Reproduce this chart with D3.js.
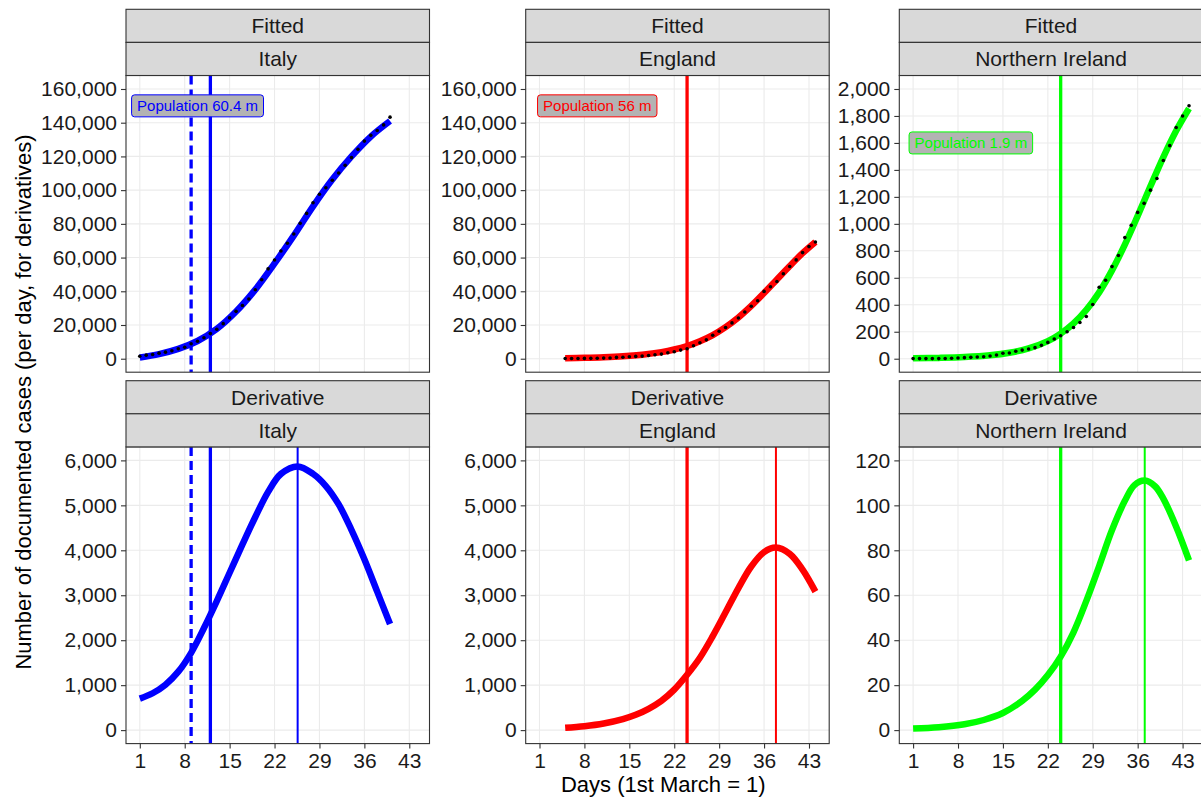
<!DOCTYPE html>
<html><head><meta charset="utf-8">
<script src="https://cdn.jsdelivr.net/npm/d3@7"></script>
<style>
body{margin:0;background:#fff}
svg{display:block}
text{font-family:"Liberation Sans",Arial,Helvetica,sans-serif}
</style>
</head><body>
<svg id="chart" width="1201" height="798"></svg>
<script>
// ---------------- data ----------------
const countries = ["Italy", "England", "Northern Ireland"];
const rowLabels = ["Fitted", "Derivative"];
const colors = ["#0000FF", "#FF0000", "#00FF00"];
const populations = ["60.4", "56", "1.9"];
const xTicks = [1, 8, 15, 22, 29, 36, 43];
const xTitle = "Days (1st March = 1)";
const yTitle = "Number of documented cases (per day, for derivatives)";

const yTicksFitted = [
  [0, 20000, 40000, 60000, 80000, 100000, 120000, 140000, 160000],
  [0, 20000, 40000, 60000, 80000, 100000, 120000, 140000, 160000],
  [0, 200, 400, 600, 800, 1000, 1200, 1400, 1600, 1800, 2000]
];
const yTicksDeriv = [
  [0, 1000, 2000, 3000, 4000, 5000, 6000],
  [0, 1000, 2000, 3000, 4000, 5000, 6000],
  [0, 20, 40, 60, 80, 100, 120]
];

// observed cumulative cases (dots), one per day starting at *Start
const italyObsStart = 1;
const italyObs = [1500, 2100, 2500, 3300, 3900, 4700, 5900, 6800, 8900, 10400,
  12400, 14900, 17500, 20800, 24200, 28100, 31600, 35400, 40900, 46800,
  53300, 58600, 63900, 68500, 74000, 80300, 86200, 92500, 97600, 101400,
  105900, 110200, 114700, 119300, 124200, 129100, 132500, 135400, 138700, 143300];
const englandObsStart = 5;
const englandObs = [100, 110, 150, 180, 230, 280, 370, 450, 770, 900,
  1160, 1360, 1560, 1950, 2340, 2740, 3520, 4110, 5100, 5880,
  7660, 9430, 11200, 13950, 16300, 18480, 21240, 24190, 27730, 31080,
  34420, 39930, 42690, 45840, 50360, 54690, 58630, 62960, 66500, 69250];
const niObsStart = 1;
const niObs = [1, 1, 1, 1, 1, 2, 3, 5, 8, 10,
  13, 15, 20, 27, 40, 42, 55, 64, 72, 82,
  99, 121, 146, 170, 200, 232, 269, 313, 402, 530,
  582, 683, 765, 898, 989, 1085, 1152, 1250, 1336, 1470,
  1580, 1714, 1800, 1876];

// fitted curves [day, cases]
const italyFit = [[1,700],[4,2700],[7,5800],[10,10500],[13,17700],[16,28000],[19,41000],
  [22,56500],[25,73000],[28,90400],[31,106300],[34,120000],[37,131800],[40,141000]];
const englandFit = [[5,300],[8,500],[11,840],[14,1400],[17,2360],[20,3900],[22,5450],[24,7550],
  [26,10400],[28,14050],[30,18750],[32,24500],[34,31350],[36,39000],[38,47000],[40,55000],
  [42,62600],[44,69250]];
const niFit = [[1,3],[5,6],[9,12],[13,25],[16,44],[19,76],[22,130],[24,186],[26,261],[28,362],
  [30,492],[32,655],[34,846],[36,1059],[38,1280],[40,1495],[42,1690],[44,1855]];

// derivative curves [day, cases per day]
const italyDeriv = [[1,700],[3,820],[5,1010],[7,1300],[9,1720],[11,2270],[13,2870],[15,3500],
  [17,4130],[19,4740],[21,5300],[23,5700],[25.6,5866],[28,5700],[30,5430],[32,5020],
  [34,4450],[36,3800],[38,3080],[40,2360]];
const englandDeriv = [[5,52],[8,88],[11,148],[14,245],[16,340],[18,473],[20,650],[22,900],
  [24,1230],[26,1610],[28,2090],[30,2620],[32,3160],[34,3640],[36,3960],[37.85,4060],
  [40,3920],[42,3570],[44,3080]];
const niDeriv = [[1,0.7],[5,1.3],[9,2.6],[12,4.5],[15,7.6],[18,13],[20,18],[22,24.5],[24,32.7],
  [26,43.5],[28,57.5],[30,73],[32,89],[34,102],[35.5,109],[37.1,111],[38.7,108.5],[40,103],
  [42,90.5],[44,75.5]];

// reference lines (days)
const dashedLineDay = [9, null, null];
const solidLineDay = [12, 24, 24];
const peakLineDay = [25.6, 37.85, 37.1];

// population label anchor (day, value)
const labelDay = [10, 10, 10];
const labelValue = [150000, 150000, 1600];

// ---------------- layout ----------------
const xDomain = [-1.15, 46.15];
const yDomFitted = [[-8000, 168000], [-8000, 168000], [-100, 2100]];
const yDomDeriv = [[-300, 6300], [-300, 6300], [-6, 126]];
const panelLeft = [126, 525.7, 899.3];
const panelW = 303.5;
const stripTop = [9.3, 380.7];
const stripH = 33.1;
const panelH = 296.7;
const FONT_TICK = 21, FONT_STRIP = 21, FONT_TITLE = 22, FONT_LABEL = 15;

const obs = [
  italyObs.map((v, i) => [italyObsStart + i, v]),
  englandObs.map((v, i) => [englandObsStart + i, v]),
  niObs.map((v, i) => [niObsStart + i, v])
];
const fits = [italyFit, englandFit, niFit];
const derivs = [italyDeriv, englandDeriv, niDeriv];

const svg = d3.select("#chart");
svg.append("rect").attr("width", 1201).attr("height", 798).attr("fill", "#fff");
const defs = svg.append("defs");
const fmt = d3.format(",");

countries.forEach((country, ci) => {
  rowLabels.forEach((rowLabel, ri) => {
    const x0 = panelLeft[ci];
    const pTop = stripTop[ri] + 2 * stripH;
    const x = d3.scaleLinear().domain(xDomain).range([x0, x0 + panelW]);
    const y = d3.scaleLinear().domain(ri === 0 ? yDomFitted[ci] : yDomDeriv[ci])
      .range([pTop + panelH, pTop]);
    const yTicks = ri === 0 ? yTicksFitted[ci] : yTicksDeriv[ci];
    const col = colors[ci];
    const clipId = `clip-${ri}-${ci}`;
    defs.append("clipPath").attr("id", clipId).append("rect")
      .attr("x", x0).attr("y", pTop).attr("width", panelW).attr("height", panelH);

    const g = svg.append("g");
    g.append("rect").attr("x", x0).attr("y", pTop).attr("width", panelW).attr("height", panelH)
      .attr("fill", "#fff");

    const inner = g.append("g").attr("clip-path", `url(#${clipId})`);
    // grid
    inner.selectAll("line.gx").data(xTicks).join("line").attr("class", "gx")
      .attr("x1", d => x(d)).attr("x2", d => x(d)).attr("y1", pTop).attr("y2", pTop + panelH)
      .attr("stroke", "#EBEBEB").attr("stroke-width", 1.1);
    inner.selectAll("line.gy").data(yTicks).join("line").attr("class", "gy")
      .attr("y1", d => y(d)).attr("y2", d => y(d)).attr("x1", x0).attr("x2", x0 + panelW)
      .attr("stroke", "#EBEBEB").attr("stroke-width", 1.1);

    // reference lines
    if (dashedLineDay[ci] !== null) {
      inner.append("line").attr("x1", x(dashedLineDay[ci])).attr("x2", x(dashedLineDay[ci]))
        .attr("y1", pTop).attr("y2", pTop + panelH)
        .attr("stroke", col).attr("stroke-width", 3.3).attr("stroke-dasharray", "9,5");
    }
    inner.append("line").attr("x1", x(solidLineDay[ci])).attr("x2", x(solidLineDay[ci]))
      .attr("y1", pTop).attr("y2", pTop + panelH)
      .attr("stroke", col).attr("stroke-width", 3.3);
    if (ri === 1) {
      inner.append("line").attr("x1", x(peakLineDay[ci])).attr("x2", x(peakLineDay[ci]))
        .attr("y1", pTop).attr("y2", pTop + panelH)
        .attr("stroke", col).attr("stroke-width", 2);
    }

    // curve
    const line = d3.line().x(d => x(d[0])).y(d => y(d[1])).curve(d3.curveCatmullRom.alpha(0.5));
    inner.append("path").datum(ri === 0 ? fits[ci] : derivs[ci])
      .attr("d", line).attr("fill", "none").attr("stroke", col)
      .attr("stroke-width", 6.5).attr("stroke-linejoin", "round");

    if (ri === 0) {
      inner.selectAll("circle.obs").data(obs[ci]).join("circle").attr("class", "obs")
        .attr("cx", d => x(d[0])).attr("cy", d => y(d[1])).attr("r", 1.8).attr("fill", "#000");

      const lg = inner.append("g");
      const lx = x(labelDay[ci]), ly = y(labelValue[ci]);
      const t = lg.append("text").attr("x", lx).attr("y", ly).attr("dy", "0.35em")
        .attr("text-anchor", "middle").style("font-size", FONT_LABEL + "px")
        .attr("fill", col).text(`Population ${populations[ci]} m`);
      const w = t.node().getComputedTextLength();
      lg.insert("rect", "text").attr("x", lx - w / 2 - 5.5).attr("y", ly - 11)
        .attr("width", w + 11).attr("height", 22).attr("rx", 3)
        .attr("fill", "#B3B3B3").attr("stroke", col).attr("stroke-width", 1);
    }

    // panel border
    g.append("rect").attr("x", x0).attr("y", pTop).attr("width", panelW).attr("height", panelH)
      .attr("fill", "none").attr("stroke", "#333333").attr("stroke-width", 1.1);

    // strips
    [rowLabel, country].forEach((lab, si) => {
      const sy = stripTop[ri] + si * stripH;
      g.append("rect").attr("x", x0).attr("y", sy).attr("width", panelW).attr("height", stripH)
        .attr("fill", "#D9D9D9").attr("stroke", "#333333").attr("stroke-width", 1.1);
      g.append("text").attr("x", x0 + panelW / 2).attr("y", sy + stripH / 2).attr("dy", "0.35em")
        .attr("text-anchor", "middle").style("font-size", FONT_STRIP + "px")
        .attr("fill", "#1A1A1A").text(lab);
    });

    // y axis
    const ya = g.append("g").attr("transform", `translate(${x0},0)`)
      .call(d3.axisLeft(y).tickValues(yTicks).tickFormat(fmt).tickSize(5).tickPadding(4));
    ya.select(".domain").remove();
    ya.selectAll(".tick line").attr("stroke", "#333333").attr("stroke-width", 1.1);
    ya.selectAll(".tick text").attr("fill", "#1A1A1A").style("font-size", FONT_TICK + "px")
      .style("font-family", '"Liberation Sans",Arial,sans-serif');

    // x axis (bottom row only)
    if (ri === 1) {
      const xa = g.append("g").attr("transform", `translate(0,${pTop + panelH})`)
        .call(d3.axisBottom(x).tickValues(xTicks).tickFormat(d3.format("d")).tickSize(5).tickPadding(4.5));
      xa.select(".domain").remove();
      xa.selectAll(".tick line").attr("stroke", "#333333").attr("stroke-width", 1.1);
      xa.selectAll(".tick text").attr("fill", "#1A1A1A").style("font-size", FONT_TICK + "px")
        .style("font-family", '"Liberation Sans",Arial,sans-serif');
    }
  });
});

// axis titles
svg.append("text").attr("x", 663.3).attr("y", 791.5).attr("text-anchor", "middle")
  .style("font-size", FONT_TITLE + "px").attr("fill", "#000").text(xTitle);
svg.append("text").attr("transform", "translate(23,402) rotate(-90)").attr("dy", "0.35em")
  .attr("text-anchor", "middle").style("font-size", FONT_TITLE + "px").attr("fill", "#000")
  .text(yTitle);
</script>
</body></html>
